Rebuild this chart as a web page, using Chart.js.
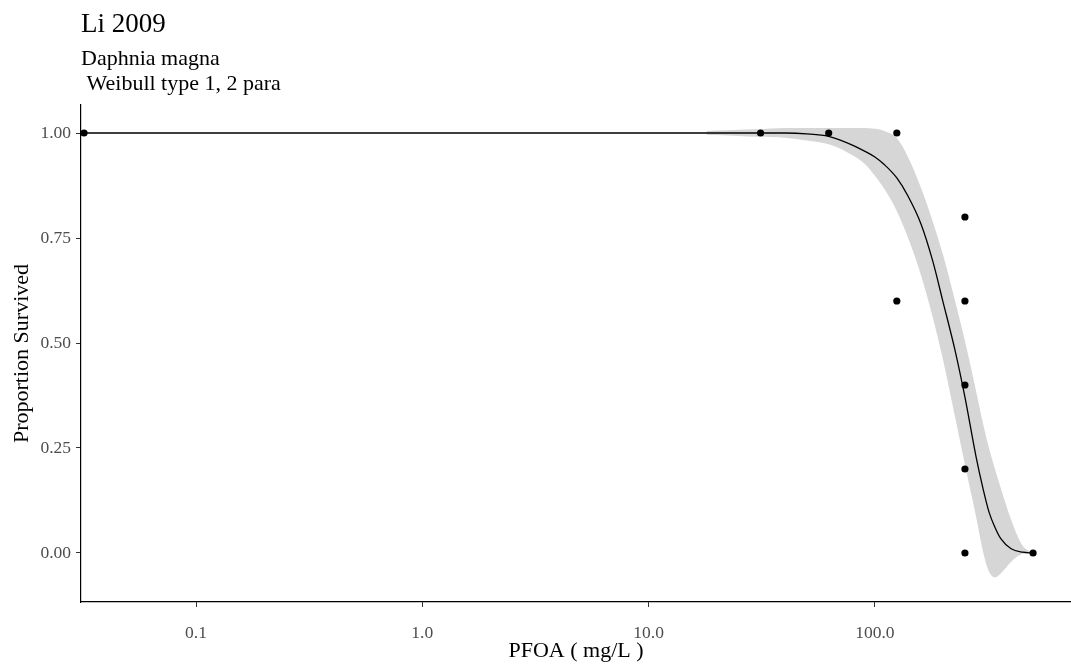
<!DOCTYPE html>
<html>
<head>
<meta charset="utf-8">
<script src="https://cdn.jsdelivr.net/npm/chart.js@4"></script>
<style>
  html, body { margin: 0; padding: 0; background: #ffffff; }
  #wrap { width: 1071px; height: 665px; }
</style>
</head>
<body>
<div id="wrap"><canvas id="c" width="1071" height="665"></canvas></div>
<script>
// ---- Data ----
const titleText = "Li 2009";
const subtitleLines = ["Daphnia magna", " Weibull type 1, 2 para"];
const xAxisTitle = "PFOA ( mg/L )";
const yAxisTitle = "Proportion Survived";

// Observed proportions (control plotted at the left edge of the log axis)
const pointConc = [0.032, 31.25, 62.5, 125, 125, 250, 250, 250, 250, 250, 500];
const pointProp = [1.00, 1.00, 1.00, 1.00, 0.60, 0.80, 0.60, 0.40, 0.20, 0.00, 0.00];

// Fitted Weibull curve
const curveConc = [0.032, 18, 20, 25, 30, 40, 50, 62.5, 75, 90, 100, 110, 125, 140, 160, 180, 200, 225, 250, 280, 300, 320, 340, 360, 400, 450, 500];
const curveProp = [1.000, 1.000, 1.000, 1.000, 1.000, 1.000, 0.998, 0.992, 0.977, 0.957, 0.943, 0.925, 0.893, 0.850, 0.783, 0.696, 0.598, 0.487, 0.371, 0.229, 0.155, 0.096, 0.060, 0.034, 0.010, 0.002, 0.000];

// Confidence band
const bandConc  = [18, 20, 25, 30, 40, 50, 62.5, 75, 90, 100, 110, 125, 140, 160, 180, 200, 225, 250, 280, 300, 320, 340, 360, 400, 450, 500];
const bandUpper = [1.005, 1.006, 1.008, 1.009, 1.012, 1.012, 1.012, 1.012, 1.012, 1.010, 1.005, 0.988, 0.943, 0.869, 0.790, 0.710, 0.605, 0.505, 0.386, 0.310, 0.248, 0.198, 0.155, 0.079, 0.017, 0.000];
const bandLower = [0.996, 0.995, 0.993, 0.991, 0.989, 0.982, 0.973, 0.955, 0.927, 0.898, 0.867, 0.814, 0.751, 0.661, 0.562, 0.460, 0.329, 0.210, 0.086, 0.005, -0.045, -0.058, -0.049, -0.021, -0.002, 0.000];

// Axis ticks
const xTickValues = [0.1, 1, 10, 100];
const yTickValues = [0, 0.25, 0.5, 0.75, 1];
const xRange = [0.03103, 735.6];
const yRange = [-0.1167, 1.0667];

// ---- Build chart ----
const zip = (xs, ys) => xs.map((x, i) => ({ x: x, y: ys[i] }));
const serif = "'Liberation Serif', 'Times New Roman', serif";

const titlePlugin = {
  id: 'ggTitles',
  afterDraw(chart) {
    const ctx = chart.ctx;
    const left = chart.chartArea.left;
    ctx.save();
    ctx.fillStyle = '#000000';
    ctx.textAlign = 'left';
    ctx.textBaseline = 'alphabetic';
    ctx.font = "27px " + serif;
    ctx.fillText(titleText, left, 32);
    ctx.font = "22px " + serif;
    ctx.fillText(subtitleLines[0], left, 65);
    ctx.fillText(subtitleLines[1], left, 90);
    ctx.restore();
  }
};

new Chart(document.getElementById('c'), {
  type: 'scatter',
  data: {
    datasets: [
      {
        label: 'observed',
        data: zip(pointConc, pointProp),
        backgroundColor: '#000000',
        borderColor: '#000000',
        pointRadius: 3.6,
        pointBorderWidth: 0,
        showLine: false,
        clip: false
      },
      {
        label: 'fit',
        data: zip(curveConc, curveProp),
        showLine: true,
        borderColor: '#000000',
        borderWidth: 1.3,
        pointRadius: 0,
        cubicInterpolationMode: 'monotone',
        fill: false
      },
      {
        label: 'lower',
        data: zip(bandConc, bandLower),
        showLine: true,
        borderWidth: 0,
        borderColor: 'rgba(0,0,0,0)',
        pointRadius: 0,
        cubicInterpolationMode: 'monotone',
        fill: false
      },
      {
        label: 'upper',
        data: zip(bandConc, bandUpper),
        showLine: true,
        borderWidth: 0,
        borderColor: 'rgba(0,0,0,0)',
        backgroundColor: '#D6D6D6',
        pointRadius: 0,
        cubicInterpolationMode: 'monotone',
        fill: '-1'
      }
    ]
  },
  options: {
    responsive: false,
    animation: false,
    events: [],
    layout: { autoPadding: false, padding: { top: 105, left: 0, right: 0, bottom: 0 } },
    plugins: {
      legend: { display: false },
      tooltip: { enabled: false },
      title: { display: false }
    },
    scales: {
      x: {
        type: 'logarithmic',
        min: xRange[0],
        max: xRange[1],
        afterBuildTicks(scale) { scale.ticks = xTickValues.map(v => ({ value: v })); },
        afterFit(scale) { scale.height = 63; scale.paddingLeft = 0; scale.paddingRight = 0; },
        ticks: {
          autoSkip: false,
          maxRotation: 0,
          padding: 16,
          color: '#4D4D4D',
          font: { family: serif, size: 17.5 },
          callback: (v) => Number(v).toFixed(1)
        },
        grid: {
          drawOnChartArea: false,
          drawTicks: true,
          tickLength: 5,
          tickColor: '#333333',
          tickWidth: 1
        },
        border: { display: true, color: '#000000', width: 1.2 },
        title: {
          display: true,
          text: xAxisTitle,
          color: '#000000',
          font: { family: serif, size: 22 },
          padding: { top: 0, bottom: 1 }
        }
      },
      y: {
        type: 'linear',
        min: yRange[0],
        max: yRange[1],
        afterBuildTicks(scale) { scale.ticks = yTickValues.map(v => ({ value: v })); },
        afterFit(scale) { scale.width = 81; },
        ticks: {
          padding: 5,
          color: '#4D4D4D',
          font: { family: serif, size: 17.5 },
          callback: (v) => Number(v).toFixed(2)
        },
        grid: {
          drawOnChartArea: false,
          drawTicks: true,
          tickLength: 5,
          tickColor: '#333333',
          tickWidth: 1
        },
        border: { display: true, color: '#000000', width: 1.2 },
        title: {
          display: true,
          text: yAxisTitle,
          color: '#000000',
          font: { family: serif, size: 22 },
          padding: { top: 9, bottom: 0 }
        }
      }
    }
  },
  plugins: [titlePlugin]
});
</script>
</body>
</html>
